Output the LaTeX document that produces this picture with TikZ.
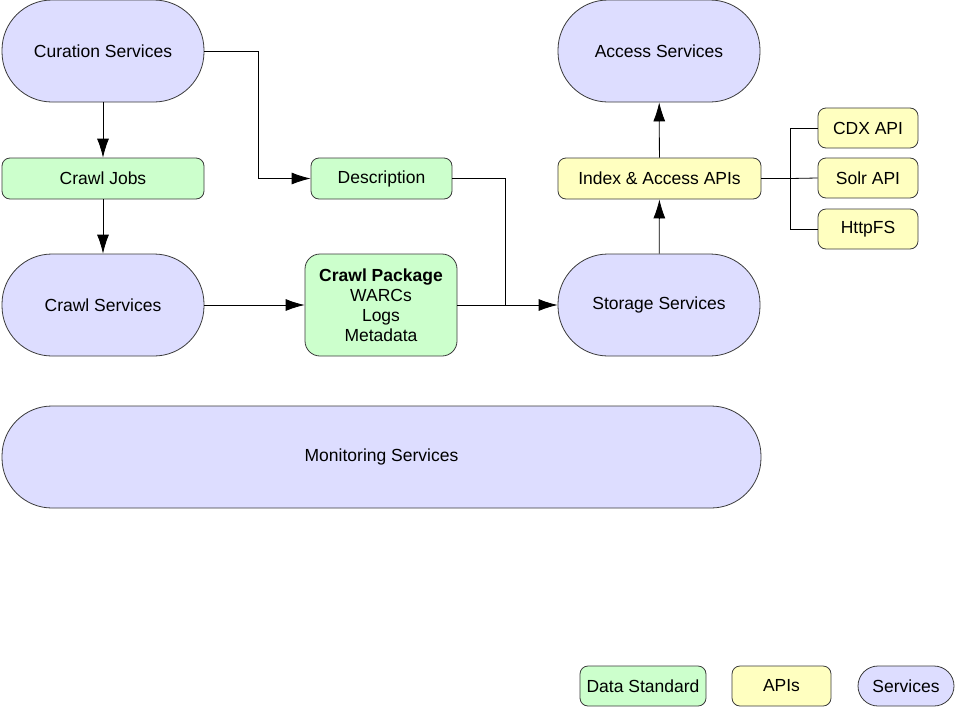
\documentclass[tikz,border=0pt]{standalone}
\usepackage{fontspec}
\setmainfont{Liberation Sans}
\usetikzlibrary{arrows.meta}
\definecolor{svcfill}{HTML}{DDDDFF}
\definecolor{stdfill}{HTML}{CCFFCC}
\definecolor{apifill}{HTML}{FFFFC0}
\definecolor{edge}{HTML}{3A3A3A}
\tikzset{
  box/.style={draw=edge, line width=0.8pt, inner sep=0pt, align=center,
    font=\fontsize{17.5}{20}\selectfont},
  svc/.style={box, fill=svcfill, minimum width=202pt, minimum height=102pt, rounded corners=50pt},
  std/.style={box, fill=stdfill, minimum height=41pt, rounded corners=8pt},
  api/.style={box, fill=apifill, minimum height=40pt, rounded corners=8pt},
  arr/.style={line width=0.8pt, -{Latex[length=19pt,width=12pt]}},
  wire/.style={line width=0.8pt}
}
\begin{document}
\begin{tikzpicture}[x=1pt,y=-1pt]
\useasboundingbox (0,0) rectangle (955,707);

% services
\node [svc] at (103, 51) (cur) {Curation Services};
\node [svc] at (659, 51) (acc) {Access Services};
\node [svc] at (103, 305) (crawl) {Crawl Services};
\node [svc] at (659, 305) (store) {Storage Services};
\node [svc, minimum width=759pt] at (381.5, 457) (mon) {Monitoring Services};

% data standards
\node [std, minimum width=202pt] at (103, 178.5) (jobs) {Crawl Jobs};
\node [std, minimum width=141pt] at (381.5, 178.5) (desc) {Description};
\node [std, minimum width=152pt, minimum height=102pt, rounded corners=15pt] at (381, 305) (pkg)
  {\textbf{Crawl Package}\\WARCs\\Logs\\Metadata};

% apis
\node [api, minimum width=203pt, minimum height=41pt] at (659.5, 178.5) (idx) {Index \& Access APIs};
\node [api, minimum width=100pt] at (868, 128) (cdx) {CDX API};
\node [api, minimum width=100pt] at (868, 178) (solr) {Solr API};
\node [api, minimum width=100pt] at (868, 229) (hfs) {HttpFS};

% legend
\node [std, minimum width=126pt, minimum height=40pt] at (643, 686) (legstd) {Data Standard};
\node [api, minimum width=99pt] at (781.5, 686) (legapi) {APIs};
\node [box, fill=svcfill, minimum width=96pt, minimum height=40pt, rounded corners=20pt] at (906, 686) (legsvc) {Services};

% connectors
\draw [arr] (cur) -- (jobs);
\draw [arr] (jobs) -- (crawl);
\draw [arr] (cur.east) -- ++(54,0) |- (desc.west);
\coordinate (join) at (505, 305);
\draw [wire] (desc.east) -| (join);
\draw [arr] (crawl) -- (pkg);
\draw [arr] (pkg) -- (store);
\draw [arr] (store) -- (idx);
\draw [arr] (idx) -- (acc);
\coordinate (fork) at (790, 178.5);
\draw [wire] (idx.east) -- (fork);
\draw [wire] (fork) |- (cdx.west);
\draw [wire] (fork) -- (solr.west);
\draw [wire] (fork) |- (hfs.west);
\end{tikzpicture}
\end{document}
